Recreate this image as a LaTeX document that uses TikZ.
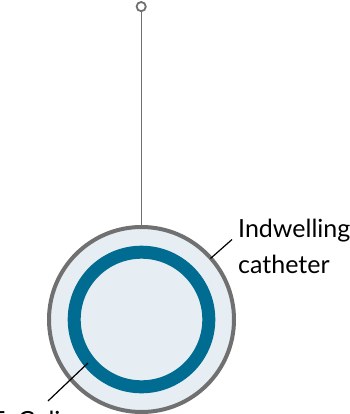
\documentclass[tikz,border=0pt]{standalone}
\usepackage{fontspec}
\setmainfont{Lato}
\definecolor{rimgray}{RGB}{112,112,112}
\definecolor{lumen}{RGB}{230,238,244}
\definecolor{biofilm}{RGB}{0,108,145}
\begin{document}
\begin{tikzpicture}[x=1pt,y=-1pt,
    leader/.style={black,line width=1.2pt},
    label/.style={font=\fontsize{25}{36}\selectfont,inner sep=0pt,align=left}]
    \useasboundingbox (0,0) rectangle (349,414);

    % catheter wall and lumen
    \coordinate (c) at (141.5,319.5);
    \draw[rimgray,line width=4pt,fill=lumen] (c) circle[radius=92.5];

    % biofilm ring
    \draw[biofilm,line width=13pt] (c) circle[radius=67.3];

    % stem with ring on top
    \coordinate (top) at (141.5,12);
    \coordinate (rim) at (141.5,226);
    \draw[rimgray,line width=1.6pt] (top) -- (rim);
    \draw[rimgray,line width=1.8pt] (141.2,6.6) circle[radius=4.6];

    % labels
    \node[label,anchor=base west] (cath) at (238,273) {Indwelling\\catheter};
    \node[label,anchor=north west] (coli) at (-9,410.5) {E. Coli};

    % leader lines
    \coordinate (cathend) at (210.5,258.5);
    \coordinate (cathtip) at (232,239.5);
    \draw[leader] (cathend) -- (cathtip);
    \coordinate (coliend) at (88,363);
    \coordinate (colitip) at (48,401);
    \draw[leader] (coliend) -- (colitip);
\end{tikzpicture}
\end{document}
